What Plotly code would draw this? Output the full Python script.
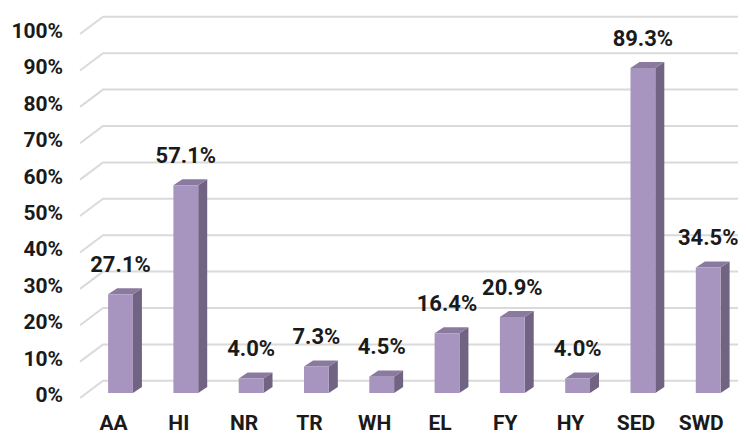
import plotly.graph_objects as go

categories = ["AA", "HI", "NR", "TR", "WH", "EL", "FY", "HY", "SED", "SWD"]
values = [27.1, 57.1, 4.0, 7.3, 4.5, 16.4, 20.9, 4.0, 89.3, 34.5]
tick_values = [0, 10, 20, 30, 40, 50, 60, 70, 80, 90, 100]
tick_labels = [f"{v}%" for v in tick_values]

# pseudo-3D geometry (axis units)
HALF_W = 0.19                    # half width of bar front face (category units)
DEPTH_X, DEPTH_Y = 0.138, 1.65   # bar depth offset
FLOOR_X, FLOOR_Y = -0.107, -1.38  # front floor edge offset from bar plane
WALL_X, WALL_Y = 0.245, 3.35      # back wall offset from bar plane
LEFT_X = -0.62                     # left edge of floor (front)
X_RANGE = [-1.723, 9.579]
Y_RANGE = [-11.81, 105.77]

FRONT = "#a895bf"
SIDE = "#716382"
TOP = "#8a7aa0"
GRID = "#dadada"
FONT = "Roboto"
TXT = "#1a1a1a"

fig = go.Figure()

# gridlines: diagonal on left wall + horizontal on back wall
wall_left = LEFT_X - FLOOR_X + WALL_X
gx, gy = [], []
for t in tick_values:
    y_front = t + FLOOR_Y
    y_back = t + WALL_Y
    gx += [LEFT_X, wall_left, X_RANGE[1] + 1, None]
    gy += [y_front, y_back, y_back, None]
fig.add_trace(go.Scatter(x=gx, y=gy, mode="lines",
                         line=dict(color=GRID, width=2), hoverinfo="skip",
                         showlegend=False))

# bars
for i, v in enumerate(values):
    x0, x1 = i - HALF_W, i + HALF_W
    fig.add_trace(go.Scatter(
        x=[x1, x1 + DEPTH_X, x1 + DEPTH_X, x1, x1],
        y=[0, DEPTH_Y, v + DEPTH_Y, v, 0],
        fill="toself", fillcolor=SIDE, mode="lines", line=dict(width=0, color=SIDE),
        hoverinfo="skip", showlegend=False))
    fig.add_trace(go.Scatter(
        x=[x0, x0 + DEPTH_X, x1 + DEPTH_X, x1, x0],
        y=[v, v + DEPTH_Y, v + DEPTH_Y, v, v],
        fill="toself", fillcolor=TOP, mode="lines", line=dict(width=0, color=TOP),
        hoverinfo="skip", showlegend=False))
    fig.add_trace(go.Scatter(
        x=[x0, x1, x1, x0, x0],
        y=[0, 0, v, v, 0],
        fill="toself", fillcolor=FRONT, mode="lines", line=dict(width=0, color=FRONT),
        hoverinfo="skip", showlegend=False))

# value labels
fig.add_trace(go.Scatter(
    x=list(range(len(values))),
    y=[v + 7.6 for v in values],
    mode="text", text=[f"{v:.1f}%" for v in values],
    textfont=dict(family=FONT, size=22, color=TXT, weight="bold"),
    hoverinfo="skip", showlegend=False, cliponaxis=False))

# category labels
fig.add_trace(go.Scatter(
    x=[i + FLOOR_X for i in range(len(categories))],
    y=[-8.7] * len(categories),
    mode="text", text=categories,
    textfont=dict(family=FONT, size=21, color=TXT, weight="bold"),
    hoverinfo="skip", showlegend=False, cliponaxis=False))

# y tick labels
fig.add_trace(go.Scatter(
    x=[-0.88] * len(tick_values),
    y=[t - 1.0 for t in tick_values],
    mode="text", text=tick_labels, textposition="middle left",
    textfont=dict(family=FONT, size=21, color=TXT, weight="bold"),
    hoverinfo="skip", showlegend=False, cliponaxis=False))

fig.update_layout(
    width=738, height=428,
    margin=dict(l=0, r=0, t=0, b=0),
    paper_bgcolor="white", plot_bgcolor="white",
    xaxis=dict(range=X_RANGE, visible=False, fixedrange=True),
    yaxis=dict(range=Y_RANGE, visible=False, fixedrange=True),
)

fig.write_html("out.html")
